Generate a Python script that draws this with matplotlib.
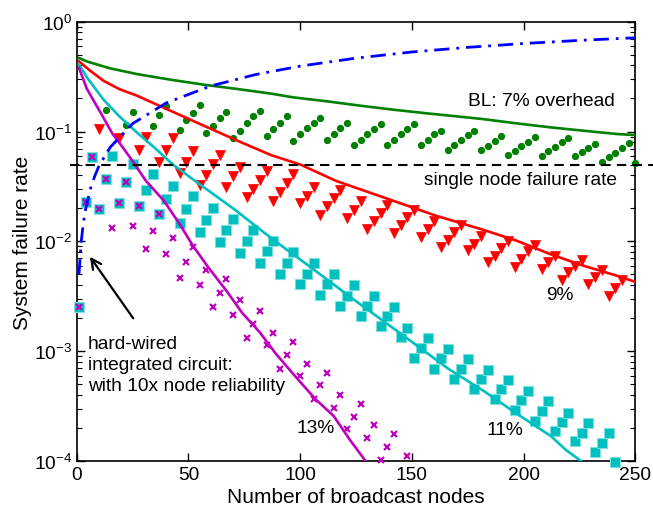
import numpy as np
import matplotlib.pyplot as plt

plt.rcParams['font.family'] = ['Liberation Sans', 'DejaVu Sans']
plt.rcParams['mathtext.fontset'] = 'custom'
plt.rcParams['mathtext.rm'] = 'Liberation Sans'
plt.rcParams['mathtext.default'] = 'regular'

# === DATA (log10 of failure rate) ===
# BL: 7% overhead (green dots)
bl7_n = [13, 22, 25, 34, 37, 40, 46, 49, 52, 55, 58, 61, 64, 67, 70, 73, 76, 79, 82,
         85, 88, 91, 94, 97, 100, 103, 106, 109, 112, 115, 118, 121, 124, 127, 130,
         133, 136, 139, 142, 145, 148, 151, 154, 157, 160, 163, 166, 169, 172, 175,
         178, 181, 184, 187, 190, 193, 196, 199, 202, 205, 208, 211, 214, 217, 220,
         223, 226, 229, 232, 235, 238, 241, 244, 247, 250]
bl7_log = [-0.805, -0.938, -0.820, -0.948, -0.853, -0.771, -0.984, -0.893, -0.829, -0.759,
           -1.017, -0.948, -0.875, -0.820, -1.057, -0.996, -0.923, -0.862, -0.816,
           -1.039, -0.978, -0.923, -0.862, -1.087, -1.026, -0.969, -0.923, -0.875,
           -1.075, -1.026, -0.969, -0.923, -1.123, -1.075, -1.026, -0.981, -0.935,
           -1.123, -1.075, -1.026, -0.981, -0.935, -1.123, -1.075, -1.026, -0.993,
           -1.169, -1.123, -1.078, -1.032, -0.993, -1.169, -1.130, -1.084, -1.039,
           -1.215, -1.175, -1.135, -1.096, -1.051, -1.224, -1.181, -1.139, -1.099, -1.060,
           -1.226, -1.190, -1.151, -1.114, -1.276, -1.236, -1.196, -1.154, -1.108, -1.285]

# 9% (red triangles)
p9_n = [10, 19, 28, 31, 37, 40, 43, 46, 49, 52, 55, 58, 61, 64, 67, 70, 73, 76, 79, 82,
        85, 88, 91, 94, 97, 100, 103, 106, 109, 112, 115, 118, 121, 124, 127, 130, 133,
        136, 139, 142, 145, 148, 151, 154, 157, 160, 163, 166, 169, 172, 175, 178, 181,
        184, 187, 190, 193, 196, 199, 202, 205, 208, 211, 214, 217, 220, 223, 226, 229,
        232, 235, 238, 241, 244]
p9_log = [-0.978, -1.060, -1.169, -1.053, -1.275, -1.169, -1.060, -1.381, -1.275, -1.181,
          -1.485, -1.394, -1.297, -1.215, -1.503, -1.403, -1.327, -1.600, -1.524, -1.440,
          -1.358, -1.631, -1.549, -1.464, -1.388, -1.655, -1.585, -1.503, -1.759, -1.682,
          -1.609, -1.531, -1.791, -1.716, -1.636, -1.889, -1.816, -1.746, -1.667, -1.925,
          -1.852, -1.782, -1.713, -1.959, -1.883, -1.813, -2.050, -1.986, -1.919, -1.847,
          -2.083, -2.026, -1.955, -2.187, -2.132, -2.062, -1.995, -2.232, -2.156, -2.092,
          -2.032, -2.253, -2.192, -2.132, -2.351, -2.283, -2.223, -2.169, -2.390, -2.320,
          -2.262, -2.497, -2.429, -2.354]

# 11% (cyan squares)
p11_n = [1, 4, 7, 10, 13, 16, 19, 22, 25, 28, 31, 34, 37, 40, 43, 46, 49, 52, 55, 58,
         61, 64, 67, 70, 73, 76, 79, 82, 85, 88, 91, 94, 97, 100, 103, 106, 109, 112,
         115, 118, 121, 124, 127, 130, 133, 136, 139, 142, 145, 148, 151, 154, 157, 160,
         163, 166, 169, 172, 175, 178, 181, 184, 187, 190, 193, 196, 199, 202, 205, 208,
         211, 214, 217, 220, 223, 226, 229, 232, 235, 238, 241]
p11_log = [-2.597, -1.637, -1.236, -1.707, -1.436, -1.224, -1.650, -1.463, -1.300, -1.682,
           -1.532, -1.391, -1.752, -1.612, -1.496, -1.835, -1.709, -1.591, -1.919, -1.804,
           -1.694, -2.010, -1.898, -1.800, -2.104, -2.001, -1.892, -2.193, -2.092, -1.998,
           -2.293, -2.199, -2.096, -2.390, -2.293, -2.199, -2.487, -2.390, -2.293, -2.585,
           -2.497, -2.399, -2.679, -2.590, -2.493, -2.772, -2.681, -2.597, -2.867, -2.785,
           -3.058, -2.970, -2.879, -3.161, -3.066, -2.976, -3.256, -3.158, -3.067, -3.347,
           -3.256, -3.171, -3.438, -3.347, -3.262, -3.538, -3.444, -3.362, -3.636, -3.544,
           -3.453, -3.727, -3.645, -3.559, -3.818, -3.741, -3.656, -3.914, -3.832, -3.748,
           -4.009]

# 13% (magenta crosses)
p13_n = [1, 4, 7, 10, 13, 16, 19, 22, 25, 28, 31, 34, 37, 40, 43, 46, 49, 52, 55, 58,
         61, 64, 67, 70, 73, 76, 79, 82, 85, 88, 91, 94, 97, 100, 103, 106, 109, 112,
         115, 118, 121, 124, 127, 130, 133, 136, 139, 142, 148]
p13_log = [-2.597, -1.637, -1.236, -1.707, -1.436, -1.874, -1.650, -1.463, -1.858, -1.682,
           -2.071, -1.910, -1.752, -2.117, -1.965, -2.329, -2.187, -2.047, -2.399, -2.260,
           -2.597, -2.472, -2.339, -2.670, -2.536, -2.882, -2.751, -2.636, -2.946, -2.833,
           -3.161, -3.031, -2.916, -3.225, -3.113, -3.432, -3.310, -3.195, -3.513, -3.399,
           -3.711, -3.595, -3.477, -3.793, -3.675, -3.991, -3.872, -3.757, -3.954]

# solid curves
bl7_line_n = [1, 5, 15, 27, 42, 57, 72, 87, 97, 112, 127, 142, 157, 172, 182, 197, 212, 227, 242, 250]
bl7_line_log = [-0.331, -0.365, -0.425, -0.477, -0.528, -0.574, -0.613, -0.655, -0.689, -0.725,
                -0.765, -0.802, -0.835, -0.866, -0.887, -0.926, -0.962, -0.993, -1.023, -1.032]
p9_line_n = [1, 6, 12, 19, 27, 42, 57, 72, 87, 100, 116, 131, 146, 161, 182, 197, 212, 227, 242, 250]
p9_line_log = [-0.361, -0.446, -0.538, -0.613, -0.674, -0.811, -0.948, -1.084, -1.215, -1.300,
               -1.449, -1.555, -1.661, -1.768, -1.895, -1.995, -2.117, -2.223, -2.314, -2.369]
p11_line_n = [1, 5, 12, 19, 27, 35, 43, 55, 70, 87, 105, 124, 145, 167, 182, 197, 212, 219, 227]
p11_line_log = [-0.39, -0.52, -0.71, -0.86, -1.01, -1.15, -1.30, -1.48, -1.70, -1.97, -2.24,
                -2.53, -2.84, -3.17, -3.36, -3.57, -3.77, -3.90, -4.02]
p13_line_n = [1, 4.5, 11, 16, 19, 24, 31, 39, 46, 52, 59, 67, 74, 82, 89, 97, 107, 115, 122, 130]
p13_line_log = [-0.42, -0.61, -0.84, -1.02, -1.10, -1.24, -1.45, -1.63, -1.84, -2.04, -2.24,
                -2.45, -2.65, -2.83, -3.02, -3.21, -3.44, -3.59, -3.80, -4.02]

# hard-wired integrated circuit (blue dash-dot)
hw_n = [1, 2, 3, 4, 6, 8, 10, 15, 25, 40, 60, 80, 100, 125, 150, 175, 200, 225, 250]
hw_rate = [0.005, 0.0099, 0.0149, 0.0197, 0.0296, 0.039, 0.049, 0.072, 0.118, 0.182,
           0.26, 0.33, 0.394, 0.466, 0.53, 0.584, 0.633, 0.676, 0.714]

single_node_rate = 0.05

GREEN = '#008000'
RED = '#ff0000'
CYAN = '#00bfbf'
MAGENTA = '#bf00bf'
BLUE = '#0000ff'
FS = 13.8

fig = plt.figure(figsize=(6.53, 5.10), dpi=100)
ax = fig.add_axes([0.1175, 0.094, 0.8555, 0.8615])

def lg(v):
    return 10 ** np.array(v)

# markers
ax.plot(bl7_n, lg(bl7_log), 'o', color=GREEN, ms=4.2, mec=GREEN, clip_on=False, zorder=3)
ax.plot(p9_n, lg(p9_log), 'v', color=RED, ms=7.5, mec=RED, mew=0.5, clip_on=False, zorder=3)
ax.plot(p11_n, lg(p11_log), 's', color=CYAN, ms=6.5, mec='#7fdede', mew=0.8, clip_on=False, zorder=3)
ax.plot(p13_n, lg(p13_log), 'x', color=MAGENTA, ms=4.5, mew=1.6, clip_on=False, zorder=4)

# curves
ax.plot(bl7_line_n, lg(bl7_line_log), '-', color=GREEN, lw=1.9, zorder=5)
ax.plot(p9_line_n, lg(p9_line_log), '-', color=RED, lw=1.9, zorder=5)
ax.plot(p11_line_n, lg(p11_line_log), '-', color=CYAN, lw=1.9, zorder=5)
ax.plot(p13_line_n, lg(p13_line_log), '-', color=MAGENTA, lw=1.9, zorder=5)
ax.plot(hw_n, hw_rate, color=BLUE, lw=2.0, linestyle=(0, (5.5, 2.5, 1, 2.5)), zorder=5)
ax.plot([-3, 258], [single_node_rate, single_node_rate], color='k', lw=1.5,
        linestyle=(0, (4.5, 3)), clip_on=False, zorder=6)

ax.set_yscale('log')
ax.set_xlim(0, 250)
ax.set_ylim(1e-4, 1)
ax.set_xticks([0, 50, 100, 150, 200, 250])
ax.set_yticks([1e-4, 1e-3, 1e-2, 1e-1, 1])
ax.tick_params(which='both', direction='in', top=True, right=True, labelsize=FS)
ax.tick_params(which='major', length=6, width=1)
ax.tick_params(which='minor', length=3.5, width=0.8)
for s in ax.spines.values():
    s.set_linewidth(1.2)

ax.set_xlabel('Number of broadcast nodes', fontsize=15, labelpad=3)
ax.set_ylabel('System failure rate', fontsize=15, labelpad=1)

ax.text(208, 10 ** -0.72, 'BL: 7% overhead', fontsize=FS, ha='center', va='center')
ax.text(198.5, 10 ** -1.434, 'single node failure rate', fontsize=FS, ha='center', va='center')
ax.text(216.4, 10 ** -2.481, '9%', fontsize=FS, ha='center', va='center')
ax.text(191.7, 10 ** -3.711, '11%', fontsize=FS, ha='center', va='center')
ax.text(106.7, 10 ** -3.696, '13%', fontsize=FS, ha='center', va='center')
ax.text(5.1, 10 ** -3.12, 'hard-wired\nintegrated circuit:\nwith 10x node reliability',
        fontsize=FS, ha='left', va='center', linespacing=1.32)
ax.annotate('', xy=(5.2, 0.0076), xytext=(26, 0.0019),
            arrowprops=dict(arrowstyle='->', lw=1.6, color='k', mutation_scale=18))

fig.savefig('out.png', dpi=100)
